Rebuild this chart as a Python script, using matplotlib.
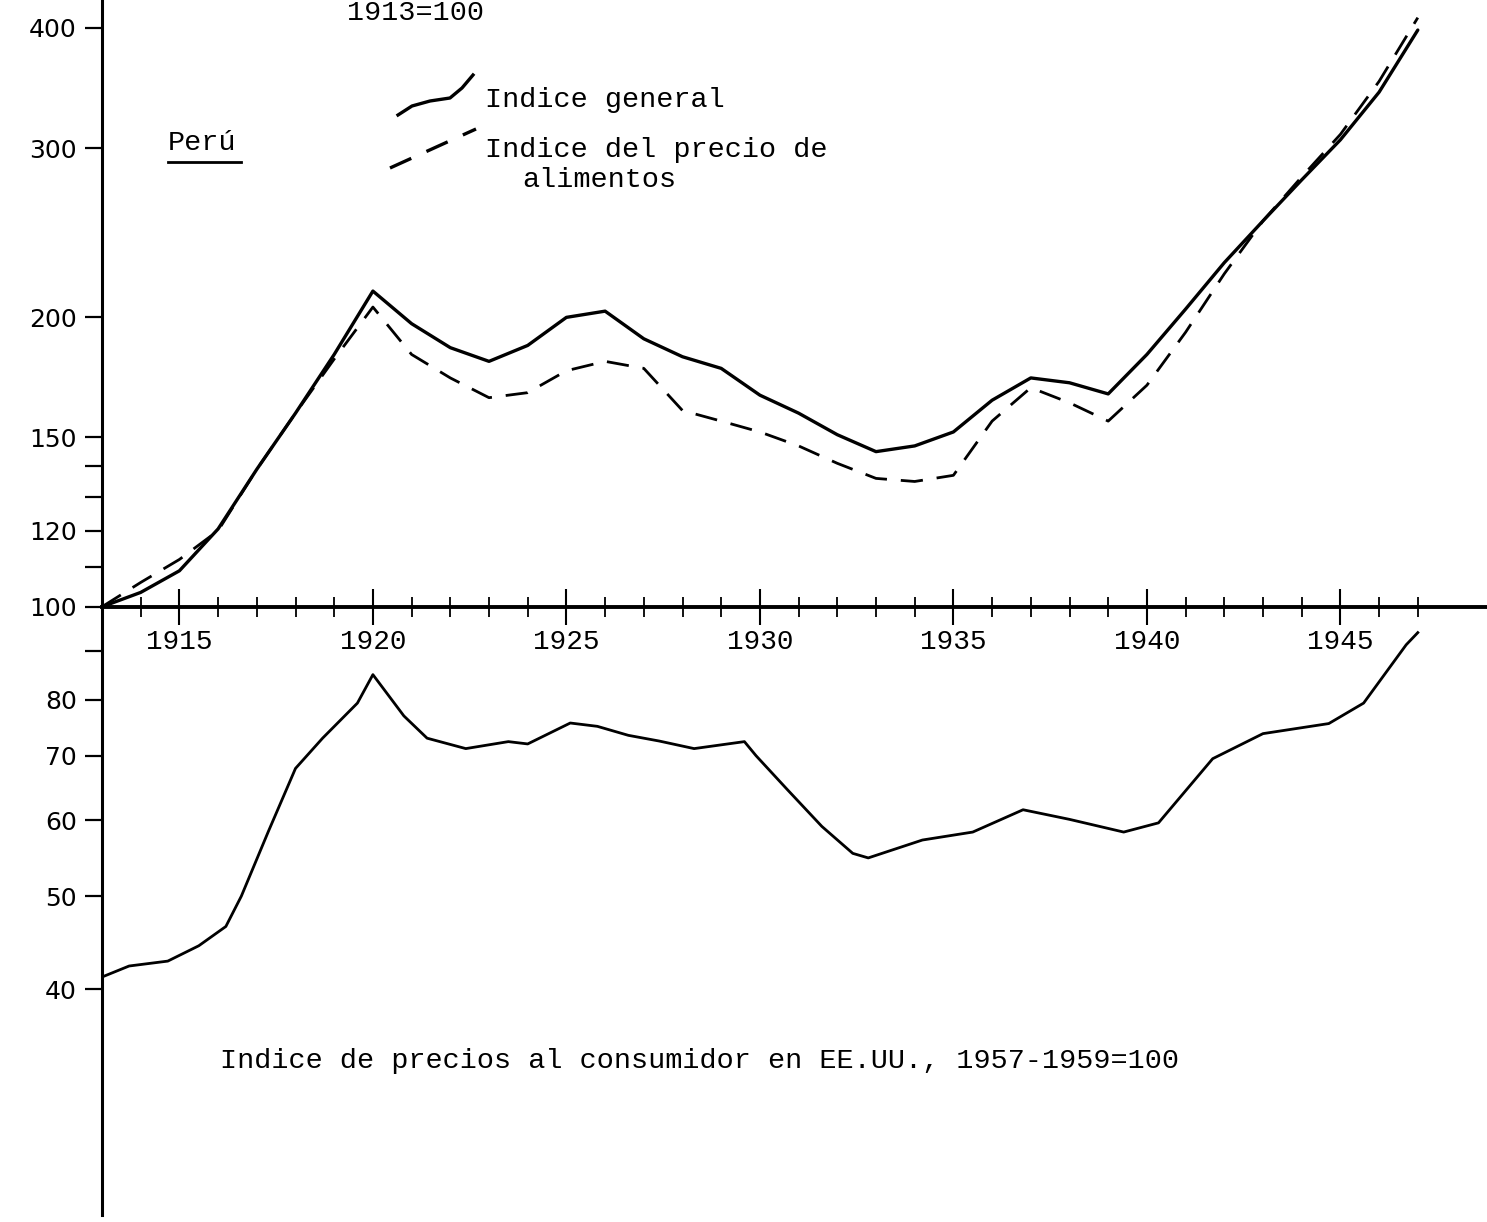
import matplotlib
matplotlib.use("Agg")
import matplotlib.pyplot as plt
from matplotlib.lines import Line2D
from matplotlib.ticker import FixedLocator, NullLocator

# --- datos (escala logaritmica) ---
years = list(range(1913, 1948))

# Peru, indice general (1913=100)
peru_general = [100, 103.5, 109, 120.5, 139, 159, 183, 213, 197, 186,
                180, 187, 200, 203, 190, 182, 177, 166, 159, 151,
                145, 147, 152, 164, 173, 171, 166.5, 183, 204, 228,
                252, 278, 306, 343, 398]

# Peru, indice del precio de alimentos (1913=100)
peru_alimentos = [100, 106, 112, 120, 139, 159, 181, 205, 183, 173,
                  165, 167, 176, 180, 177, 160, 156, 152, 147, 141,
                  136, 135, 137, 156, 169, 163, 156, 170, 193, 222,
                  252, 280, 310, 352, 410]

# EE.UU., indice de precios al consumidor (1957-1959=100)
eeuu_years = [1913.0, 1913.7, 1914.7, 1915.5, 1916.2, 1916.6, 1917.3, 1918.0,
              1918.7, 1919.6, 1920.0, 1920.8, 1921.4, 1922.4, 1923.5, 1924.0,
              1925.1, 1925.8, 1926.6, 1927.4, 1928.3, 1929.6, 1929.9, 1930.7,
              1931.6, 1932.4, 1932.8, 1934.2, 1935.5, 1936.8, 1938.0, 1939.4,
              1940.3, 1941.7, 1943.0, 1944.7, 1945.6, 1946.7, 1947.0]
eeuu_cpi = [41.2, 42.3, 42.8, 44.4, 46.5, 50.0, 58.4, 67.9,
            73.0, 79.4, 85.0, 77.0, 73.0, 71.2, 72.4, 72.0,
            75.7, 75.1, 73.5, 72.5, 71.2, 72.4, 70.0, 64.6,
            59.1, 55.4, 54.8, 57.2, 58.3, 61.5, 60.1, 58.3,
            59.6, 69.5, 73.8, 75.6, 79.4, 91.3, 94.0]

y_ticks = [40, 50, 60, 70, 80, 90, 100, 110, 120, 130, 140, 150, 200, 300, 400]
y_labels = ["40", "50", "60", "70", "80", "", "100", "", "120", "", "", "150",
            "200", "300", "400"]
x_major = [1915, 1920, 1925, 1930, 1935, 1940, 1945]
x_minor = [y for y in range(1914, 1948) if y % 5 != 0]

W, H = 1487, 1222
MONO = "Liberation Mono"

fig = plt.figure(figsize=(W / 100, H / 100), dpi=100)
ax = fig.add_axes([102 / W, 7 / H, (W - 102) / W, 1215 / H])
ax.set_yscale("log")
ax.set_xlim(1913, 1913 + (W - 102) / 38.7)
ax.set_ylim(23.3, 427.7)

ax.plot(years, peru_general, color="black", lw=2.4, solid_capstyle="round")
ax.plot(years, peru_alimentos, color="black", lw=2.0, dashes=(8, 5))
ax.plot(eeuu_years, eeuu_cpi, color="black", lw=2.0)

# ejes
for s in ("top", "right"):
    ax.spines[s].set_visible(False)
ax.spines["left"].set_linewidth(2.2)
ax.spines["bottom"].set_position(("data", 100))
ax.spines["bottom"].set_linewidth(2.8)

ax.yaxis.set_major_locator(FixedLocator(y_ticks))
ax.yaxis.set_minor_locator(NullLocator())
ax.set_yticklabels(y_labels)
ax.tick_params(axis="y", which="major", direction="out", length=12, width=1.6,
               pad=6, labelsize=18)

ax.xaxis.set_major_locator(FixedLocator(x_major))
ax.xaxis.set_minor_locator(FixedLocator(x_minor))
ax.set_xticklabels([str(y) for y in x_major])
ax.tick_params(axis="x", which="major", direction="inout", length=26, width=1.5,
               pad=3, labelsize=20)
ax.tick_params(axis="x", which="minor", direction="inout", length=14, width=1.3)
for lbl in ax.get_xticklabels():
    lbl.set_fontfamily(MONO)


def fx(px):
    return px / W


def fy(py):
    return 1 - py / H


# leyenda dibujada a mano
fig.add_artist(Line2D([fx(x) for x in (398, 412, 430, 450, 462, 473)],
                      [fy(y) for y in (115, 106, 101, 98, 88, 75)],
                      transform=fig.transFigure, color="black", lw=2.4))
fig.add_artist(Line2D([fx(390), fx(476)], [fy(168), fy(129)],
                      transform=fig.transFigure, color="black", lw=2.4,
                      dashes=(7, 5)))

txt = dict(family=MONO, fontsize=20.5, color="black", va="baseline")
fig.text(fx(347), fy(20), "1913=100", **txt)
fig.text(fx(485), fy(107), "Indice general", **txt)
fig.text(fx(485), fy(157), "Indice del precio de", **txt)
fig.text(fx(522), fy(187), "alimentos", **txt)
fig.text(fx(168), fy(150), "Perú", **txt)
fig.add_artist(Line2D([fx(168), fx(241)], [fy(162), fy(162)],
                      transform=fig.transFigure, color="black", lw=2.0))
fig.text(fx(220), fy(1068),
         "Indice de precios al consumidor en EE.UU., 1957-1959=100", **txt)

fig.savefig("out.png", dpi=100)
